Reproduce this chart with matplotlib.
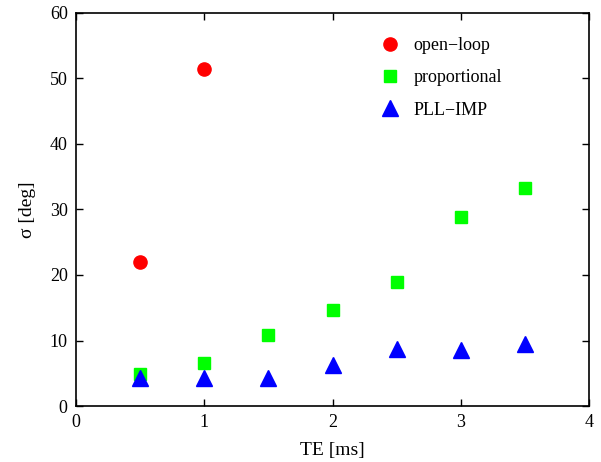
import matplotlib.pyplot as plt

plt.rcParams["font.family"] = ["Liberation Serif", "DejaVu Serif"]
plt.rcParams["mathtext.fontset"] = "stix"

# data
te_open = [0.5, 1.0]
sigma_open = [22.0, 51.4]

te_prop = [0.5, 1.0, 1.5, 2.0, 2.5, 3.0, 3.5]
sigma_prop = [4.9, 6.5, 10.8, 14.6, 19.0, 28.9, 33.3]

te_pll = [0.5, 1.0, 1.5, 2.0, 2.5, 3.0, 3.5]
sigma_pll = [4.2, 4.2, 4.3, 6.2, 8.7, 8.5, 9.4]

fig = plt.figure(figsize=(6.01, 4.62), dpi=100)
ax = fig.add_axes([0.1265, 0.1212, 0.8535, 0.8507])

ax.plot(te_open, sigma_open, "o", color="#ff0000", markersize=9.5, label="open\u2212loop")
ax.plot(te_prop, sigma_prop, "s", color="#00ff00", markersize=8.5, label="proportional")
ax.plot(te_pll, sigma_pll, "^", color="#0000ff", markersize=11, label="PLL\u2212IMP")

ax.set_xlim(0, 4)
ax.set_ylim(0, 60)
ax.set_xticks([0, 1, 2, 3, 4])
ax.set_yticks([0, 10, 20, 30, 40, 50, 60])
ax.tick_params(direction="in", top=True, right=True, length=5, width=1, labelsize=13, pad=6)
for s in ax.spines.values():
    s.set_linewidth(1.2)

ax.set_xlabel("TE [ms]", fontsize=14, labelpad=8)
ax.set_ylabel("\u03c3 [deg]", fontsize=14, labelpad=10)

ax.legend(loc="upper left", bbox_to_anchor=(0.545, 0.98), frameon=False,
          fontsize=13, handletextpad=0.3, labelspacing=0.85, numpoints=1)

fig.savefig("out.png", dpi=100)
